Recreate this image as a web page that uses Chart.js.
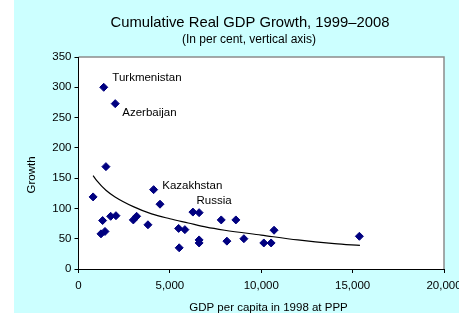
<!DOCTYPE html>
<html>
<head>
<meta charset="utf-8">
<script src="https://cdn.jsdelivr.net/npm/chart.js@4"></script>
<style>
  html, body { margin: 0; padding: 0; background: #fff; overflow: hidden; width: 459px; height: 313px; }
  #wrap { position: absolute; left: 14px; top: 0; width: 460px; height: 313px; background: #ccffff; }
</style>
</head>
<body>
<div id="wrap"><canvas id="myChart" width="460" height="313"></canvas></div>
<script>
// GDP per capita in 1998 (PPP) and cumulative growth 1999-2008, one entry per country
const gdpPerCapita = [800, 1230, 1450, 1320, 1760, 2050, 1380, 2010, 1500, 3000, 3180, 3800, 4110, 4460,
  5480, 5510, 5820, 6260, 6600, 6600, 6600, 7810, 8120, 8610, 9050, 10140, 10540, 10700, 15370];
const growth = [119, 58, 62, 80, 87, 88, 300, 273, 169, 81, 87, 73, 131, 107,
  67, 35, 65, 94, 93, 48, 43, 81, 46, 81, 50, 43, 43, 64, 54];
const countryNames = ["", "", "", "", "", "", "Turkmenistan", "Azerbaijan", "", "", "", "", "Kazakhstan", "",
  "", "", "", "", "Russia", "", "", "", "", "", "", "", "", "", ""];

// trend curve
const trendX = [800, 1000, 1500, 2000, 3000, 4000, 5000, 6000, 7000, 8000, 10000, 12000, 14000, 15400];
const trendY = [154, 146, 130, 119, 103, 91, 83, 76, 69, 64, 56, 48, 42, 39];

const xTicks = [0, 5000, 10000, 15000, 20000];
const yTicks = [0, 50, 100, 150, 200, 250, 300, 350];

const font = "'Liberation Sans', Arial, sans-serif";
const labelOffsets = {
  Turkmenistan: [8.6, -9],
  Azerbaijan: [7, 9.4],
  Kazakhstan: [8.6, -4],
  Russia: [-2.6, -11.4],
};

const frame = {
  id: "frame",
  beforeDraw(chart) {
    const { ctx, chartArea: a } = chart;
    ctx.save();
    ctx.fillStyle = "#fff";
    ctx.fillRect(a.left, a.top, a.right - a.left, a.bottom - a.top);
    ctx.strokeStyle = "#8c8c8c";
    ctx.lineWidth = 1.5;
    ctx.beginPath();
    ctx.moveTo(a.left, a.top);
    ctx.lineTo(a.right, a.top);
    ctx.lineTo(a.right, a.bottom);
    ctx.stroke();
    ctx.restore();
  },
  afterDraw(chart) {
    const { ctx } = chart;
    ctx.save();
    ctx.fillStyle = "#000";
    ctx.textAlign = "center";
    ctx.textBaseline = "middle";
    ctx.font = "14.8px " + font;
    ctx.fillText("Cumulative Real GDP Growth, 1999\u20132008", 236, 22.5);
    ctx.font = "12px " + font;
    ctx.fillText("(In per cent, vertical axis)", 235, 40);
    ctx.font = "11.5px " + font;
    ctx.fillText("GDP per capita in 1998 at PPP", 254.5, 307.5);
    ctx.save();
    ctx.translate(18.3, 175);
    ctx.rotate(-Math.PI / 2);
    ctx.fillText("Growth", 0, 0);
    ctx.restore();

    // country labels
    ctx.textAlign = "left";
    const meta = chart.getDatasetMeta(0);
    countryNames.forEach((name, i) => {
      if (!name) return;
      const p = meta.data[i];
      const off = labelOffsets[name] || [6, -8];
      ctx.fillText(name, p.x + off[0], p.y + off[1]);
    });
    ctx.restore();
  },
};

const ctx = document.getElementById("myChart");
const chart = new Chart(ctx, {
  type: "scatter",
  data: {
    datasets: [
      {
        label: "Countries",
        data: gdpPerCapita.map((x, i) => ({ x: x, y: growth[i] })),
        pointStyle: "rectRot",
        pointRadius: 4,
        backgroundColor: "#000080",
        borderColor: "#000080",
        borderWidth: 1,
      },
      {
        type: "line",
        label: "Trend",
        data: trendX.map((x, i) => ({ x: x, y: trendY[i] })),
        borderColor: "#000",
        borderWidth: 1.2,
        pointRadius: 0,
        cubicInterpolationMode: "monotone",
        fill: false,
      },
    ],
  },
  options: {
    responsive: false,
    animation: false,
    layout: { padding: { left: 0, top: 57, right: 30, bottom: 0 } },
    plugins: {
      legend: { display: false },
      tooltip: { enabled: false },
    },
    scales: {
      x: {
        type: "linear",
        min: 0,
        max: 20000,
        afterBuildTicks: (s) => { s.ticks = xTicks.map((v) => ({ value: v })); },
        afterFit: (s) => { s.height = 44; },
        grid: { drawOnChartArea: false, tickLength: 4, color: "#000" },
        border: { color: "#000", width: 1 },
        ticks: {
          color: "#000",
          padding: 6,
          maxRotation: 0,
          font: { family: font, size: 11.5 },
          callback: (v) => v.toLocaleString("en-US"),
        },
      },
      y: {
        min: 0,
        max: 350,
        afterBuildTicks: (s) => { s.ticks = yTicks.map((v) => ({ value: v })); },
        afterFit: (s) => { s.width = 64.5; },
        grid: { drawOnChartArea: false, tickLength: 4, color: "#000" },
        border: { color: "#000", width: 1 },
        ticks: {
          color: "#000",
          padding: 3,
          font: { family: font, size: 11.5 },
        },
      },
    },
  },
  plugins: [frame],
});
</script>
</body>
</html>
